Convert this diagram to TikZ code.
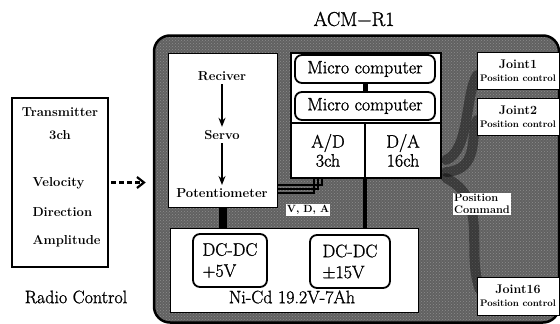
\documentclass[tikz,border=0pt]{standalone}
\usepackage{fontspec}
\newfontfamily\heavyfont{Latin Modern Roman}[FakeBold=1.2]
\usepackage{tikz}
\usetikzlibrary{arrows.meta,patterns}

\begin{document}
\begin{tikzpicture}[x=1pt,y=-1pt,
  box/.style={draw,line width=1.8pt,fill=white,inner sep=0pt},
  rbox/.style={box,rounded corners=7pt},
  big/.style={font=\heavyfont\fontsize{18}{21}\selectfont},
  small/.style={font=\bfseries\fontsize{13}{14}\selectfont},
  flow/.style={-{Stealth[length=9pt,width=7pt]},line width=2pt},
  cable/.style={line width=10pt,black,opacity=0.4,line cap=round}]
\useasboundingbox (0,0) rectangle (560,324);

% radio control
\node[box,line width=2pt,minimum width=96,minimum height=169] (tx) at (60,182.5) {};
\node[small] (txname) at (60,112) {Transmitter};
\node[small] (txch) at (60,135) {3ch};
\node[small,anchor=west] (vel) at (29,183) {Velocity};
\node[small,anchor=west] (dir) at (29,212) {Direction};
\node[small,anchor=west] (amp) at (29,241) {Amplitude};
\node[big] (rc) at (76,297) {Radio Control};

% robot body
\node[big,font=\heavyfont\fontsize{20}{22}\selectfont] (title) at (354,19) {ACM−R1};
\node[draw,line width=2.5pt,rounded corners=16pt,preaction={fill=black!62},
  pattern=crosshatch dots,pattern color=white!55!black,
  minimum width=405,minimum height=287] (acm) at (356.5,179) {};
\draw[-{Straight Barb[length=7pt,width=11pt]},line width=2.2pt,dash pattern=on 5pt off 3pt,
  shorten <=2pt,shorten >=7pt] (tx.east) -- (tx.east -| acm.west);

% cables to the joints
\draw[cable] (446,160) .. controls (470,150) and (465,95) .. (477,75);
\draw[cable] (446,172) .. controls (480,170) and (470,135) .. (477,120);
\draw[cable] (446,178) .. controls (490,200) and (465,250) .. (480,290);

% receiver side
\node[box,line width=1pt,minimum width=109,minimum height=154] (rx) at (222.5,130) {};
\node[small] (rec) at (222,76) {Reciver};
\node[small] (servo) at (222,135) {Servo};
\node[small] (pot) at (222,193) {Potentiometer};
\draw[flow] (rec) -- (servo);
\draw[flow] (servo) -- (pot);

% computer
\node[box,minimum width=150,minimum height=70] (mc) at (366,88) {};
\node[rbox,big,minimum width=140,minimum height=28] (mc1) at (365,69) {Micro computer};
\node[rbox,big,minimum width=140,minimum height=28] (mc2) at (365,106) {Micro computer};
\draw[line width=5pt] (mc1) -- (mc2);
\node[box,big,align=center,minimum width=74,minimum height=55] (ad) at (328,150.5) {A/D\\[-2pt]3ch};
\node[box,big,align=center,minimum width=76,minimum height=55] (da) at (403,150.5) {D/A\\[-2pt]16ch};
\foreach \i in {0,1,2}
  \draw[line width=1.3pt] ([yshift=-55pt-4pt*\i]rx.east) -| ([xshift=-6pt-4pt*\i]ad.south);
\node[fill=white,inner sep=1pt,font=\bfseries\fontsize{10.5}{12}\selectfont] (vda) at (308,210) {V, D, A};

% joints
\node[box,line width=1pt,align=center,minimum width=82,minimum height=37] (j1) at (518,70.5)
  {\bfseries\fontsize{12.5}{13}\selectfont Joint1\\[1pt]\bfseries\fontsize{9.5}{10}\selectfont Position control};
\node[box,line width=1pt,align=center,minimum width=82,minimum height=37] (j2) at (518,116.5)
  {\bfseries\fontsize{12.5}{13}\selectfont Joint2\\[1pt]\bfseries\fontsize{9.5}{10}\selectfont Position control};
\node[box,line width=1pt,align=center,minimum width=82,minimum height=38] (j16) at (518,296)
  {\bfseries\fontsize{12.5}{13}\selectfont Joint16\\[1pt]\bfseries\fontsize{9.5}{10}\selectfont Position control};
\node[fill=white,inner sep=1pt,align=left,font=\bfseries\fontsize{11}{12}\selectfont] (pc) at (482,204)
  {Position\\Command};

% power supply
\node[box,line width=1pt,minimum width=248,minimum height=84] (pw) at (294,270) {};
\draw[line width=8pt] (rx.south) -- (rx.south |- pw.north);
\draw[line width=4pt] ([xshift=-1pt]mc.south |- ad.south) -- ([xshift=-1pt]mc.south |- pw.north);
\node[rbox,big,align=left,minimum width=74,minimum height=53] (dc5) at (230,260.5) {DC-DC\\+5V};
\node[rbox,big,align=left,minimum width=80,minimum height=53] (dc15) at (350,261.5) {DC-DC\\±15V};
\node[big] (bat) at (292,297) {Ni-Cd 19.2V-7Ah};
\end{tikzpicture}
\end{document}
